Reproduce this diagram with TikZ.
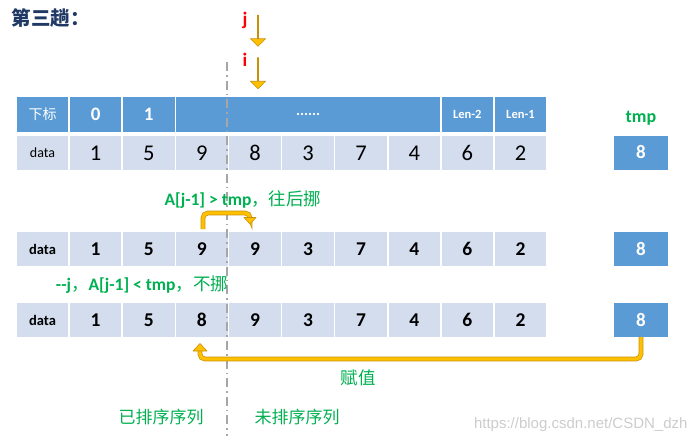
\documentclass[tikz,border=0pt]{standalone}
\usepackage{fontspec}
\setmainfont{Carlito}
\newfontfamily\cjk{Noto Sans CJK SC}
\newfontfamily\wmfont{Liberation Sans}
\usetikzlibrary{shapes.arrows}
\definecolor{hdr}{HTML}{5B9BD5}
\definecolor{cellc}{HTML}{D3DDEE}
\definecolor{grn}{HTML}{00B050}
\definecolor{org}{HTML}{FFC000}
\definecolor{orgd}{HTML}{C8900A}
\definecolor{ttl}{HTML}{1F3864}
\definecolor{sepg}{HTML}{A6A6A6}
\tikzset{
  hcell/.style={fill=hdr, text=white, minimum height=35pt, minimum width=51.5pt, inner sep=0pt},
  dcell/.style={fill=cellc, minimum height=34pt, minimum width=51.5pt, inner sep=0pt},
  tbox/.style={fill=hdr, text=white, minimum height=34pt, minimum width=54pt, inner sep=0pt, font=\bfseries\fontsize{19}{22}\selectfont},
  blockarrow/.style={single arrow, shape border rotate=270, fill=org, draw=orgd, line width=0.6pt, minimum width=15pt, single arrow head extend=4pt, minimum height=31pt, inner sep=0pt},
  movearrow/.style={draw=orgd, double=org, line width=0.7pt, double distance=3.4pt, rounded corners=5pt},
  arrhead/.style={fill=org, draw=orgd, line width=0.6pt, line join=round},
  grntxt/.style={text=grn, font=\fontsize{17.5}{20}\selectfont},
}
\begin{document}
\begin{tikzpicture}[x=1pt,y=-1pt]
\useasboundingbox (0,0) rectangle (693,442);

% title
\node[text=ttl, font=\cjk\bfseries\fontsize{19.5}{22}\selectfont, anchor=west] (title) at (8,18) {第三趟：};

% header row
\node[hcell, font=\cjk\fontsize{14}{16}\selectfont] (h0) at (42.55,114.5) {下标};
\node[hcell, font=\bfseries\fontsize{19}{22}\selectfont] (h1) at (95.65,114.5) {0};
\node[hcell, font=\bfseries\fontsize{19}{22}\selectfont] (h2) at (148.75,114.5) {1};
\node[hcell, minimum width=264.5pt, font=\bfseries\fontsize{15}{17}\selectfont] (h3) at (308.05,114.5) {......};
\node[hcell, font=\bfseries\fontsize{12.5}{14}\selectfont] (h4) at (467.35,114.5) {Len-2};
\node[hcell, font=\bfseries\fontsize{12.5}{14}\selectfont] (h5) at (520.45,114.5) {Len-1};

% data row 1
\node[dcell, font=\fontsize{14}{16}\selectfont] (r1c0) at (42.55,153) {data};
\foreach \v [count=\i] in {1,5,9,8,3,7,4,6,2}
  \node[dcell, font=\fontsize{22.5}{26}\selectfont] (r1c\i) at ({42.55+53.1*\i},153) {\v};

% data row 2
\node[dcell, font=\bfseries\fontsize{14.5}{16}\selectfont] (r2c0) at (42.55,249) {data};
\foreach \v [count=\i] in {1,5,9,9,3,7,4,6,2}
  \node[dcell, font=\bfseries\fontsize{19.5}{22}\selectfont] (r2c\i) at ({42.55+53.1*\i},249) {\v};

% data row 3
\node[dcell, font=\bfseries\fontsize{14.5}{16}\selectfont] (r3c0) at (42.55,320) {data};
\foreach \v [count=\i] in {1,5,8,9,3,7,4,6,2}
  \node[dcell, font=\bfseries\fontsize{19.5}{22}\selectfont] (r3c\i) at ({42.55+53.1*\i},320) {\v};

% tmp
\node[text=grn, font=\bfseries\fontsize{18}{21}\selectfont] (tmplbl) at (641,118) {tmp};
\node[tbox] (t1) at (641,152.5) {8};
\node[tbox] (t2) at (641,249) {8};
\node[tbox] (t3) at (641,320) {8};

% separator
\coordinate (dtop) at (227,62);
\coordinate (dbot) at (227,436);
\draw[sepg, line width=2.4pt, dash pattern=on 9pt off 4pt on 1.6pt off 4pt] (dtop) -- (dbot);

% j and i pointers
\node[text=red, font=\bfseries\fontsize{19}{22}\selectfont] (jl) at (245,20) {j};
\node[blockarrow] (jarr) at (258,30.5) {};
\node[text=red, font=\bfseries\fontsize{19}{22}\selectfont] (il) at (245,60) {i};
\node[blockarrow] (iarr) at (258,73) {};

% move arrow
\coordinate (m1) at (203,229);
\coordinate (m2) at (203,213);
\coordinate (m3) at (250,213);
\coordinate (m4) at (250,217.5);
\draw[movearrow] (m1) -- (m2) -- (m3) -- (m4);
\draw[arrhead] (244,217.5) -- (256,217.5) -- (250,224) -- cycle;
\node[grntxt, font=\bfseries\fontsize{17.5}{20}\selectfont] (lbl1) at (243,200) {A[j-1] > tmp{\cjk\mdseries ，往后挪}};

\node[grntxt, font=\bfseries\fontsize{17.5}{20}\selectfont] (lbl2) at (142,285) {-{}-j{\cjk\mdseries ，}A[j-1] < tmp{\cjk\mdseries ，不挪}};

% assign arrow
\coordinate (a1) at (641,337);
\coordinate (a2) at (641,359);
\coordinate (a3) at (200,359);
\coordinate (a4) at (200,351);
\draw[movearrow] (a1) -- (a2) -- (a3) -- (a4);
\draw[arrhead] (193,351) -- (207,351) -- (200,343.5) -- cycle;
\node[grntxt, font=\cjk\fontsize{17.5}{20}\selectfont] (lbl3) at (358,378) {赋值};

\node[grntxt, font=\cjk\fontsize{17}{20}\selectfont] (sorted) at (161,417) {已排序序列};
\node[grntxt, font=\cjk\fontsize{17}{20}\selectfont] (unsorted) at (297,417) {未排序序列};

\node[text=black!20, font=\wmfont\fontsize{15}{17}\selectfont, anchor=east] (wm) at (691,425) {https://blog.csdn.net/CSDN\_dzh};
\end{tikzpicture}
\end{document}
